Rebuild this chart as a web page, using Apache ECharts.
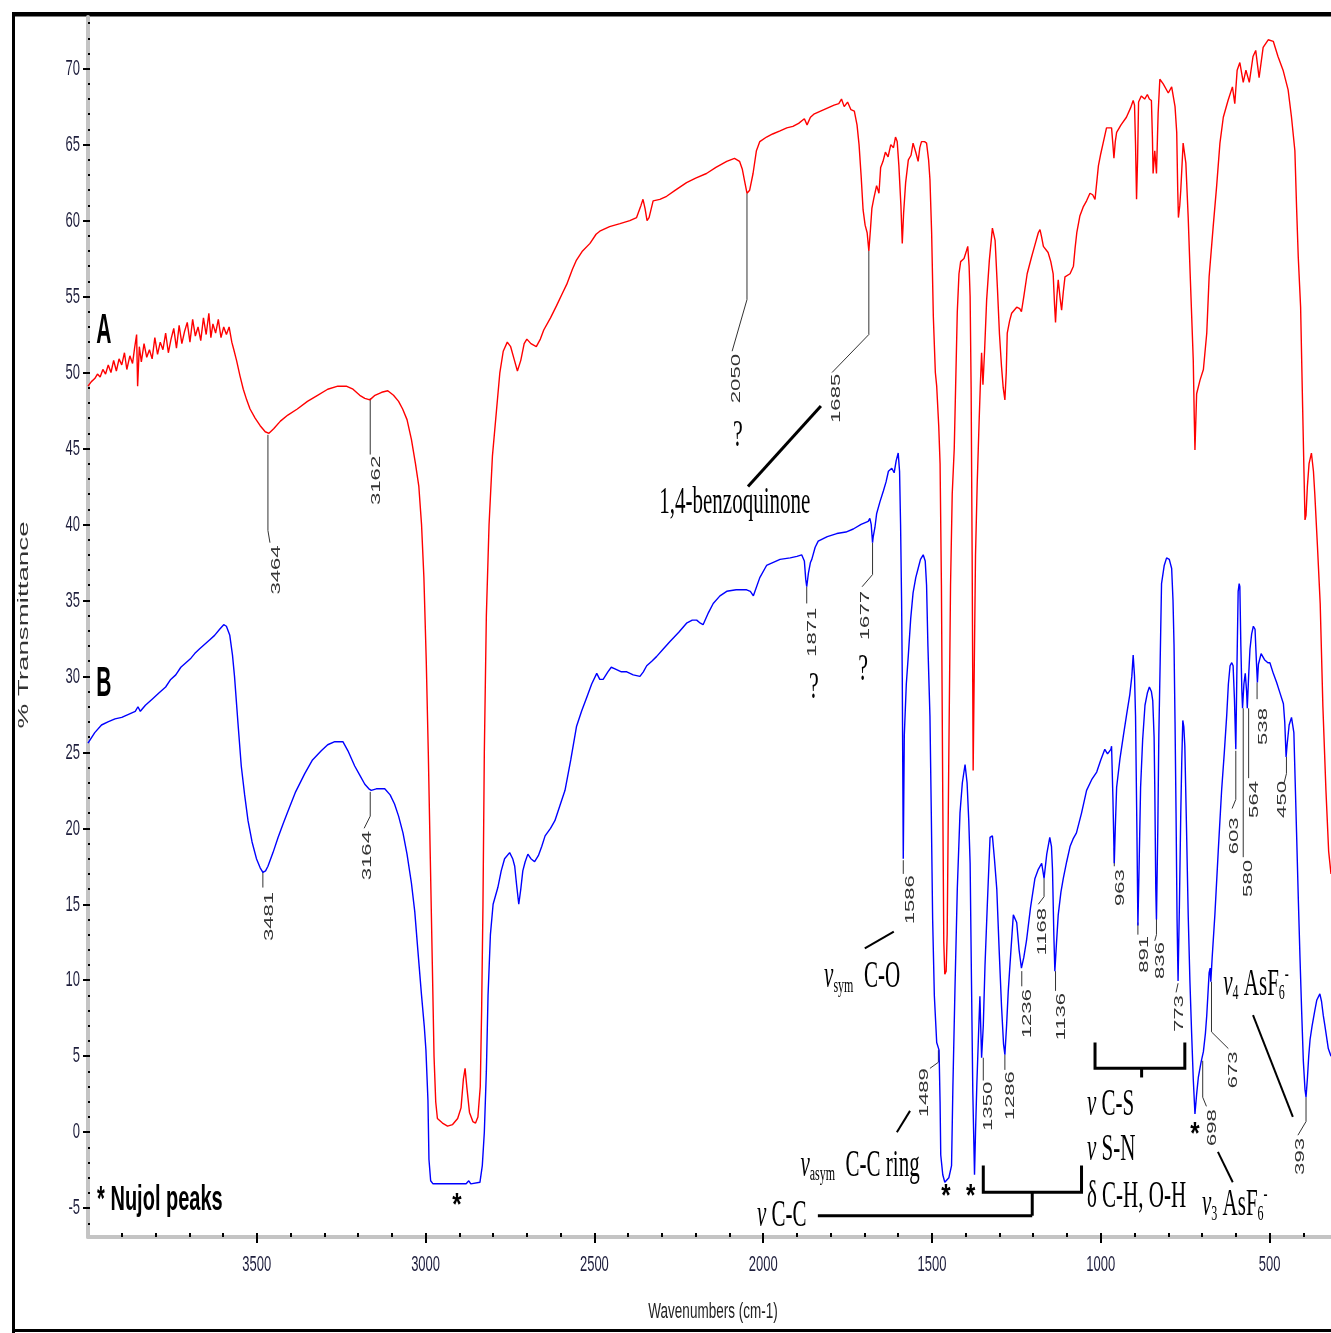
<!DOCTYPE html>
<html>
<head>
<meta charset="UTF-8">
<title>IR spectra A / B</title>
<script src="https://cdn.jsdelivr.net/npm/echarts@6/dist/echarts.min.js"></script>
<style>
  html, body { margin: 0; padding: 0; background: #fff; }
  #main { width: 1331px; height: 1333px; }
</style>
</head>
<body>
<div id="main"></div>
<script>
// spectrum A (red): [wavenumber, %T]
var specA = [
  [4000,49.1],[3990,49.4],[3980,49.6],[3972,49.9],[3964,49.7],[3956,50.2],[3948,49.9],[3940,50.5],[3932,50.0],[3924,50.8],
  [3916,50.1],[3908,50.9],[3900,50.5],[3892,51.3],[3885,50.2],[3876,51.1],[3868,50.6],[3862,51.6],[3856,52.5],[3853,49.1],
  [3848,51.7],[3842,50.7],[3834,51.9],[3826,51.0],[3818,51.5],[3810,50.9],[3802,52.3],[3794,51.2],[3786,52.0],[3778,51.5],
  [3770,52.6],[3762,51.3],[3754,52.2],[3746,52.9],[3738,51.6],[3730,53.1],[3722,51.9],[3714,52.7],[3706,53.3],[3698,52.0],
  [3690,53.5],[3682,52.4],[3674,53.0],[3666,52.1],[3658,53.6],[3650,52.5],[3642,53.9],[3636,52.3],[3630,53.2],[3622,52.6],
  [3614,53.5],[3606,52.3],[3598,53.0],[3590,52.5],[3582,53.0],[3574,52.0],[3568,51.5],[3560,50.8],[3550,49.8],[3540,48.9],
  [3530,48.2],[3520,47.6],[3505,47.0],[3490,46.5],[3475,46.1],[3464,46.0],[3450,46.3],[3430,46.8],[3408,47.2],[3380,47.6],
  [3350,48.1],[3320,48.5],[3290,48.9],[3260,49.1],[3235,49.1],[3215,48.9],[3195,48.5],[3180,48.3],[3165,48.2],[3150,48.5],
  [3130,48.7],[3112,48.8],[3095,48.5],[3080,48.1],[3068,47.6],[3055,46.9],[3042,45.6],[3030,44.0],[3020,42.5],[3012,40.0],
  [3005,36.5],[2998,31.0],[2992,25.0],[2986,18.0],[2980,11.0],[2975,5.0],[2970,2.0],[2965,0.9],[2950,0.6],[2935,0.4],
  [2920,0.5],[2905,0.9],[2895,1.6],[2888,3.5],[2883,4.2],[2878,3.0],[2870,1.3],[2860,0.7],[2852,0.6],[2845,1.0],
  [2838,3.0],[2834,8.0],[2830,15.0],[2826,25.0],[2820,34.0],[2812,40.0],[2802,44.5],[2790,47.5],[2780,50.0],[2770,51.4],
  [2758,52.0],[2748,51.7],[2738,50.9],[2728,50.1],[2718,50.8],[2708,51.9],[2700,52.2],[2688,51.9],[2672,51.7],[2660,52.2],
  [2650,52.8],[2630,53.6],[2612,54.4],[2595,55.2],[2582,55.8],[2565,56.8],[2553,57.4],[2535,58.0],[2513,58.5],[2495,59.1],
  [2484,59.3],[2455,59.6],[2424,59.8],[2395,60.0],[2375,60.2],[2362,61.0],[2356,61.4],[2350,60.8],[2344,60.0],[2338,60.2],
  [2326,61.3],[2306,61.4],[2286,61.6],[2260,62.0],[2227,62.5],[2200,62.8],[2168,63.1],[2140,63.5],[2108,63.9],[2085,64.1],
  [2070,63.9],[2062,63.4],[2055,62.6],[2048,61.8],[2040,62.0],[2030,63.1],[2020,64.6],[2010,65.2],[1990,65.5],[1972,65.7],
  [1950,65.9],[1930,66.1],[1912,66.2],[1895,66.4],[1878,66.7],[1870,66.3],[1860,66.8],[1850,67.0],[1830,67.2],[1810,67.4],
  [1790,67.6],[1776,67.7],[1768,68.0],[1760,67.5],[1750,67.8],[1740,67.3],[1730,67.2],[1722,66.3],[1716,65.0],[1710,63.0],
  [1704,60.7],[1698,59.7],[1692,59.2],[1687,58.0],[1682,59.5],[1678,60.8],[1672,61.5],[1664,62.3],[1657,61.8],[1652,63.5],
  [1645,63.9],[1638,64.5],[1630,64.2],[1622,65.0],[1614,64.8],[1608,65.5],[1603,65.2],[1598,63.6],[1592,61.0],[1588,58.5],
  [1584,60.5],[1578,62.5],[1570,64.0],[1562,64.3],[1556,65.1],[1548,64.5],[1541,63.9],[1536,64.8],[1531,65.2],[1522,65.2],
  [1516,65.1],[1510,64.0],[1506,62.7],[1501,59.2],[1496,53.7],[1490,50.0],[1486,49.1],[1480,46.5],[1476,44.0],[1472,36.0],
  [1468,22.0],[1465,12.5],[1462,10.4],[1458,10.6],[1455,13.0],[1450,25.0],[1445,36.0],[1440,42.0],[1434,45.0],[1430,49.0],
  [1425,54.0],[1420,56.5],[1415,57.3],[1405,57.5],[1398,58.0],[1394,58.3],[1390,57.0],[1387,55.0],[1384,49.0],[1381,38.0],
  [1378,23.8],[1375,30.0],[1371,38.0],[1366,42.7],[1360,47.0],[1357,49.0],[1353,51.3],[1349,49.2],[1344,51.5],[1338,54.8],
  [1330,57.4],[1321,59.5],[1313,58.7],[1306,55.5],[1300,52.5],[1294,50.4],[1289,49.0],[1284,48.2],[1280,50.0],[1277,52.6],
  [1270,53.4],[1264,53.9],[1249,54.3],[1240,54.2],[1235,54.0],[1228,55.0],[1218,56.5],[1205,57.6],[1195,58.4],[1185,59.2],
  [1180,59.4],[1175,58.9],[1170,58.3],[1156,57.9],[1148,57.3],[1141,56.5],[1137,54.5],[1134,53.3],[1130,55.0],[1126,56.1],
  [1121,55.0],[1116,54.1],[1111,55.3],[1106,56.3],[1091,56.5],[1081,57.0],[1076,58.2],[1071,59.2],[1062,60.3],[1052,60.9],
  [1042,61.3],[1032,61.8],[1024,61.7],[1017,61.4],[1012,62.5],[1007,63.6],[1000,64.4],[993,65.1],[983,66.1],[975,66.1],
  [968,66.1],[964,65.0],[961,64.1],[957,65.2],[953,65.8],[940,66.3],[924,66.8],[912,67.4],[904,67.9],[900,67.6],
  [897,65.0],[894,61.4],[891,64.0],[888,67.8],[880,68.2],[870,68.0],[862,68.3],[856,68.0],[850,67.9],[847,65.5],
  [845,63.1],[840,64.6],[835,63.1],[832,65.5],[830,67.1],[825,69.3],[815,69.0],[800,68.4],[790,68.8],[785,68.9],
  [780,67.5],[775,65.8],[772,62.0],[770,60.2],[766,61.0],[763,62.0],[756,65.1],[748,63.8],[741,60.2],[736,57.0],
  [731,53.9],[726,50.8],[723,47.0],[721,44.9],[716,48.6],[706,49.5],[696,50.2],[686,52.6],[679,56.3],[667,59.6],
  [657,62.2],[647,65.1],[637,66.8],[623,67.9],[610,68.8],[603,67.7],[596,69.9],[588,70.4],[578,69.1],[570,69.9],
  [560,69.1],[549,70.8],[541,71.2],[531,69.4],[519,71.4],[504,71.9],[489,71.8],[475,70.8],[460,69.9],[445,68.6],
  [435,66.8],[425,64.6],[420,60.9],[415,57.6],[408,54.3],[402,47.7],[398,43.4],[395,40.3],[392,40.6],[388,42.5],
  [383,44.0],[376,44.7],[370,43.5],[366,42.0],[358,38.5],[350,34.8],[342,28.0],[333,22.5],[325,18.5],[318,17.0]
];

// spectrum B (blue): [wavenumber, %T]
var specB = [
  [4000,25.6],[3980,26.3],[3960,26.8],[3941,27.0],[3920,27.2],[3900,27.3],[3880,27.5],[3860,27.7],[3852,28.0],[3845,27.7],
  [3830,28.1],[3810,28.5],[3790,28.9],[3770,29.3],[3755,29.8],[3740,30.1],[3725,30.6],[3710,30.9],[3695,31.2],[3684,31.5],
  [3670,31.8],[3655,32.1],[3640,32.4],[3625,32.7],[3610,33.1],[3598,33.4],[3590,33.3],[3580,32.7],[3572,31.4],[3566,30.0],
  [3556,27.0],[3546,24.1],[3536,22.2],[3526,20.5],[3514,19.1],[3501,18.0],[3490,17.4],[3482,17.1],[3474,17.2],[3467,17.5],
  [3452,18.4],[3437,19.4],[3422,20.3],[3408,21.1],[3385,22.4],[3358,23.6],[3335,24.5],[3309,25.1],[3290,25.5],[3269,25.7],
  [3245,25.7],[3230,25.1],[3210,24.1],[3195,23.5],[3180,22.9],[3168,22.6],[3161,22.5],[3146,22.6],[3121,22.6],[3105,22.2],
  [3092,21.6],[3080,20.8],[3067,19.7],[3055,18.3],[3042,16.4],[3032,14.5],[3023,12.0],[3012,9.0],[3004,7.0],[2999,5.4],
  [2993,2.1],[2990,-1.8],[2985,-3.2],[2978,-3.4],[2930,-3.4],[2880,-3.4],[2872,-3.2],[2866,-3.4],[2839,-3.3],[2832,-2.2],
  [2826,0.0],[2820,4.0],[2815,9.0],[2808,13.0],[2800,15.0],[2786,16.1],[2776,17.2],[2766,18.0],[2751,18.4],[2742,18.0],
  [2736,17.5],[2730,16.2],[2724,15.0],[2718,16.0],[2712,17.2],[2705,17.8],[2697,18.3],[2688,18.0],[2677,17.8],[2666,18.2],
  [2656,18.8],[2646,19.5],[2630,20.0],[2617,20.5],[2602,21.5],[2587,22.5],[2570,24.5],[2553,26.7],[2538,27.7],[2523,28.6],
  [2508,29.5],[2493,30.2],[2484,29.8],[2474,29.8],[2460,30.3],[2450,30.6],[2439,30.5],[2420,30.3],[2404,30.3],[2385,30.1],
  [2365,30.0],[2355,30.3],[2345,30.7],[2330,31.0],[2316,31.3],[2296,31.8],[2276,32.3],[2250,32.9],[2227,33.5],[2210,33.7],
  [2197,33.7],[2186,33.5],[2178,33.4],[2162,34.2],[2148,34.8],[2128,35.3],[2108,35.6],[2080,35.7],[2049,35.7],[2038,35.6],
  [2029,35.3],[2010,36.5],[1990,37.3],[1970,37.5],[1950,37.7],[1920,37.8],[1900,37.9],[1886,38.0],[1878,37.6],[1874,36.4],
  [1871,35.9],[1866,36.8],[1860,37.5],[1856,37.7],[1846,38.5],[1837,38.9],[1810,39.2],[1782,39.4],[1755,39.5],[1733,39.7],
  [1710,40.0],[1689,40.2],[1684,40.4],[1680,40.0],[1676,38.8],[1674,39.2],[1669,39.8],[1664,40.7],[1654,41.5],[1644,42.2],
  [1636,42.8],[1629,43.5],[1619,43.7],[1612,43.4],[1606,44.2],[1600,44.7],[1596,43.5],[1593,40.0],[1590,35.0],[1588,30.0],
  [1585,18.0],[1582,26.1],[1576,29.5],[1570,31.4],[1563,33.8],[1556,35.5],[1548,36.5],[1541,37.1],[1534,37.7],[1526,38.0],
  [1520,37.6],[1516,36.0],[1512,32.0],[1506,27.4],[1502,21.0],[1498,14.0],[1493,9.0],[1486,5.9],[1479,5.4],[1476,2.0],
  [1474,-1.5],[1468,-2.8],[1462,-3.3],[1457,-3.3],[1450,-3.0],[1442,-2.2],[1438,3.0],[1432,9.3],[1425,16.0],[1417,21.0],
  [1410,23.0],[1402,24.2],[1396,23.0],[1391,20.5],[1387,17.7],[1383,10.0],[1379,2.6],[1374,-2.8],[1371,0.0],[1367,3.2],
  [1362,6.5],[1358,8.95],[1355,6.5],[1353,4.9],[1348,7.0],[1343,10.9],[1336,15.0],[1328,19.4],[1321,19.5],[1315,18.0],
  [1308,16.0],[1301,12.0],[1294,8.3],[1288,5.8],[1284,5.1],[1279,7.0],[1274,9.3],[1266,12.0],[1259,14.3],[1249,13.8],
  [1242,12.0],[1235,10.8],[1228,11.5],[1220,12.6],[1208,14.8],[1195,16.7],[1185,17.3],[1175,17.7],[1168,16.7],[1160,18.3],
  [1151,19.4],[1146,18.8],[1143,17.3],[1139,13.0],[1136,10.6],[1131,12.5],[1126,14.3],[1118,15.8],[1111,16.7],[1101,17.8],
  [1091,18.8],[1082,19.3],[1072,19.7],[1057,21.0],[1042,22.5],[1027,23.2],[1012,23.7],[1000,24.5],[988,25.2],[980,24.9],
  [975,25.0],[970,25.2],[968,25.4],[964,22.0],[960,17.7],[957,20.0],[953,22.7],[943,24.6],[933,26.1],[924,27.4],
  [914,28.8],[908,30.0],[904,31.4],[900,30.0],[897,27.4],[893,20.0],[890,13.6],[886,18.0],[882,22.7],[876,25.8],
  [869,28.1],[862,28.9],[856,29.3],[850,29.0],[846,28.4],[842,26.0],[840,22.7],[837,16.0],[835,14.0],[831,20.0],
  [828,26.1],[824,31.0],[820,36.1],[812,37.3],[805,37.8],[797,37.7],[790,37.1],[786,35.0],[783,32.1],[780,27.0],
  [777,21.0],[774,14.0],[771,9.95],[767,15.0],[763,21.0],[760,24.5],[757,27.1],[754,26.7],[751,25.4],[746,20.0],
  [741,14.3],[736,10.0],[731,6.6],[726,3.5],[721,1.2],[716,2.5],[711,3.6],[703,4.6],[696,5.3],[690,6.5],
  [686,7.7],[679,10.5],[676,10.8],[674,9.9],[670,11.5],[662,14.3],[652,18.5],[642,22.5],[634,25.0],[627,27.4],
  [622,29.5],[617,30.7],[612,30.9],[608,30.7],[604,28.5],[600,25.2],[597,30.0],[593,35.6],[590,36.1],[588,35.9],
  [585,32.0],[582,29.0],[580,27.9],[576,29.5],[572,30.2],[568,29.0],[566,27.9],[562,30.0],[558,31.8],[553,32.8],
  [548,33.3],[543,33.1],[539,31.0],[536,29.6],[533,30.8],[525,31.5],[515,31.1],[505,30.9],[499,30.9],[489,30.2],
  [479,29.6],[469,28.9],[459,28.2],[455,27.0],[451,24.7],[448,25.5],[442,26.8],[435,27.3],[428,26.3],[424,23.0],
  [420,19.7],[415,15.5],[410,11.6],[405,8.0],[400,4.7],[395,2.8],[392,2.3],[388,3.5],[384,5.0],[380,6.1],
  [374,7.0],[366,8.0],[360,8.7],[351,9.1],[346,8.6],[341,7.7],[336,7.0],[326,5.5],[318,5.0]
];

var xTickLabels = [3500, 3000, 2500, 2000, 1500, 1000, 500];
var yTickLabels = [-5, 0, 5, 10, 15, 20, 25, 30, 35, 40, 45, 50, 55, 60, 65, 70];

// peak labels: text, leader line (wavenumber, %T), label centre
var peakNotes = [
  { t: '3464', line: [[3467,45.9],[3467,39.6],[3461,38.8]], at: [3443,37.0] },
  { t: '3162', line: [[3164,48.3],[3164,44.6]], at: [3147,42.9] },
  { t: '3481', line: [[3482,17.2],[3482,16.1]], at: [3464,14.2] },
  { t: '3164', line: [[3164,22.4],[3164,20.8],[3182,20.0]], at: [3171,18.2] },
  { t: '2050', line: [[2048,61.8],[2048,54.8],[2092,51.4]], at: [2078,49.6] },
  { t: '1685', line: [[1687,58.0],[1687,52.5],[1796,50.0]], at: [1784,48.3] },
  { t: '1871', line: [[1871,35.9],[1871,34.8]], at: [1853,32.9] },
  { t: '1677', line: [[1676,38.8],[1676,36.7],[1707,35.9]], at: [1696,34.0] },
  { t: '1586', line: [[1585,17.9],[1585,17.0]], at: [1565,15.3] },
  { t: '1489', line: [[1481,5.4],[1481,4.6],[1506,4.2]], at: [1521,2.6] },
  { t: '1350', line: [[1348,4.9],[1348,3.4]], at: [1334,1.7] },
  { t: '1286', line: [[1284,5.1],[1284,4.1]], at: [1267,2.4] },
  { t: '1236', line: [[1234,10.6],[1234,9.6]], at: [1218,7.8] },
  { t: '1168', line: [[1168,16.7],[1168,15.5],[1185,15.0]], at: [1172,13.2] },
  { t: '1136', line: [[1134,10.6],[1134,9.3]], at: [1118,7.6] },
  { t: '963', line: [[960,18.7],[960,17.5]], at: [943,16.1] },
  { t: '891', line: [[890,13.8],[890,13.0]], at: [872,11.7] },
  { t: '836', line: [[835,16.0],[835,13.0],[840,12.6]], at: [823,11.3] },
  { t: '773', line: [[771,9.8],[777,9.2]], at: [766,7.8] },
  { t: '603', line: [[600,25.1],[600,21.9],[611,21.3]], at: [603,19.5] },
  { t: '580', line: [[578,27.9],[578,18.1]], at: [563,16.7] },
  { t: '564', line: [[562,27.9],[562,23.3]], at: [546,21.9] },
  { t: '538', line: [[537,29.6],[537,28.5]], at: [519,26.7] },
  { t: '450', line: [[450,24.7],[450,23.6],[458,22.9]], at: [463,21.9] },
  { t: '673', line: [[672,9.9],[672,6.6],[622,5.5]], at: [608,4.1] },
  { t: '698', line: [[698,4.7],[698,2.3],[687,1.7]], at: [669,0.3] },
  { t: '393', line: [[392,2.3],[392,0.7],[416,-0.2]], at: [410,-1.6] }
];

var questionMarks = [[2075,45.8],[1850,29.2],[1704,30.4]];
var nujolStars = [[2907,-4.9],[1459,-4.3],[1385,-4.3],[721,-0.2]];

// assignment brackets (thick) and pointer strokes
var brackets = [
  [[1017,5.9],[1017,4.2],[751,4.2],[751,5.9]],
  [[879,4.2],[879,3.6]],
  [[1348,-2.2],[1348,-3.95],[1057,-3.95],[1057,-2.2]],
  [[1203,-3.95],[1203,-5.5]],
  [[1838,-5.5],[1203,-5.5]],
  [[2045,42.5],[1829,47.8]]
];
var pointers = [
  [[1699,12.1],[1613,13.2]],
  [[1604,0.0],[1565,1.4]],
  [[549,7.7],[431,1.0]],
  [[653,-1.3],[609,-3.3]]
];

// serif assignment labels: rich text, anchor, alignment
var assignLabels = [
  { t: '1,4-benzoquinone', at: [2084,41.4], align: 'center' },
  { t: '{v|ν}{s|sym}  C-O', at: [1707,10.2], align: 'center' },
  { t: '{v|ν}{s|asym}  C-C ring', at: [1713,-2.2], align: 'center' },
  { t: '{v|ν} C-C', at: [1945,-5.5], align: 'center' },
  { t: '{v|ν} C-S', at: [1041,1.8], align: 'left' },
  { t: '{v|ν} S-N', at: [1041,-1.2], align: 'left' },
  { t: 'δ C-H, O-H', at: [1041,-4.3], align: 'left' },
  { t: '{v|ν}{s|4} AsF{s|6}{p|-}', at: [540,9.7], align: 'center' },
  { t: '{v|ν}{s|3} AsF{s|6}{p|-}', at: [603,-4.8], align: 'center' }
];

var minorX = [];
for (var w = 400; w <= 3900; w += 100) minorX.push(w);
var minorY = [];
for (var v = -6; v <= 73; v++) minorY.push(v);

var chart = echarts.init(document.getElementById('main'));

var axisBase = { type: 'value', min: 318, max: 4000, inverse: true, splitLine: { show: false }, axisLabel: { show: false } };
var yBase = { type: 'value', min: -6.9, max: 73.4, splitLine: { show: false }, axisLabel: { show: false } };

chart.setOption({
  animation: false,
  backgroundColor: '#fff',
  grid: { left: 88, right: 0, top: 17, bottom: 96 },
  xAxis: [
    Object.assign({}, axisBase, {
      position: 'bottom',
      axisLine: { show: true, onZero: false, lineStyle: { color: '#c4c4c4', width: 4 } },
      axisTick: { show: true, customValues: xTickLabels, length: 6, lineStyle: { color: '#000', width: 2 } }
    }),
    Object.assign({}, axisBase, {
      position: 'bottom',
      axisLine: { show: false, onZero: false },
      axisTick: { show: true, inside: true, customValues: minorX, length: 4, lineStyle: { color: '#000', width: 2 } }
    })
  ],
  yAxis: [
    Object.assign({}, yBase, {
      position: 'left',
      axisLine: { show: true, onZero: false, lineStyle: { color: '#c4c4c4', width: 4 } },
      axisTick: { show: true, customValues: yTickLabels, length: 5, lineStyle: { color: '#000', width: 2 } }
    }),
    Object.assign({}, yBase, {
      position: 'left',
      axisLine: { show: false, onZero: false },
      axisTick: { show: true, inside: true, customValues: minorY, length: 2, lineStyle: { color: '#000', width: 2 } }
    })
  ],
  series: [
    { name: 'A', type: 'line', xAxisIndex: 0, yAxisIndex: 0, data: specA, showSymbol: false, silent: true,
      lineStyle: { color: '#ff0000', width: 1.4 } },
    { name: 'B', type: 'line', xAxisIndex: 0, yAxisIndex: 0, data: specB, showSymbol: false, silent: true,
      lineStyle: { color: '#0000ff', width: 1.4 } }
  ]
});

function toPx(p) { return chart.convertToPixel({ seriesIndex: 0 }, p); }

var g = [];
var sansNum = 'Arial, "Liberation Sans", sans-serif';
var serif = '"Liberation Serif", "Times New Roman", serif';

// frame
g.push({ type: 'rect', shape: { x: 12, y: 12, width: 3, height: 1321 }, style: { fill: '#000' } });
g.push({ type: 'rect', shape: { x: 12, y: 12, width: 1319, height: 4.5 }, style: { fill: '#000' } });
g.push({ type: 'rect', shape: { x: 12, y: 1329, width: 1319, height: 3 }, style: { fill: '#000' } });

// tick labels
yTickLabels.forEach(function (v) {
  var p = toPx([4000, v]);
  g.push({ type: 'text', x: p[0] - 8, y: p[1], scaleY: 1.75,
    style: { text: String(v), fontFamily: sansNum, fontSize: 13, fill: '#1e1e3c', align: 'right', verticalAlign: 'middle' } });
});
xTickLabels.forEach(function (v) {
  var p = toPx([v, -6.9]);
  g.push({ type: 'text', x: p[0], y: p[1] + 28, scaleY: 1.75,
    style: { text: String(v), fontFamily: sansNum, fontSize: 13, fill: '#1e1e3c', align: 'center', verticalAlign: 'middle' } });
});

// axis titles
g.push({ type: 'text', x: 713, y: 1312, scaleY: 1.7,
  style: { text: 'Wavenumbers (cm-1)', fontFamily: sansNum, fontSize: 13.5, fill: '#222', align: 'center', verticalAlign: 'middle' } });
g.push({ type: 'text', x: 24, y: 625, rotation: Math.PI / 2, scaleX: 1.85,
  style: { text: '% Transmittance', fontFamily: sansNum, fontSize: 15, fill: '#333', align: 'center', verticalAlign: 'middle' } });

// peak labels
peakNotes.forEach(function (n) {
  g.push({ type: 'polyline', shape: { points: n.line.map(toPx) }, style: { stroke: '#333', lineWidth: 1, fill: null } });
  var p = toPx(n.at);
  g.push({ type: 'text', x: p[0], y: p[1], rotation: Math.PI / 2, scaleX: 1.7,
    style: { text: n.t, fontFamily: sansNum, fontSize: 13, fill: '#333', align: 'center', verticalAlign: 'middle' } });
});

brackets.forEach(function (b) {
  g.push({ type: 'polyline', shape: { points: b.map(toPx) }, style: { stroke: '#000', lineWidth: 3, fill: null } });
});
pointers.forEach(function (b) {
  g.push({ type: 'polyline', shape: { points: b.map(toPx) }, style: { stroke: '#000', lineWidth: 2, fill: null } });
});

questionMarks.forEach(function (q) {
  var p = toPx(q);
  g.push({ type: 'text', x: p[0], y: p[1], scaleY: 1.7,
    style: { text: '?', fontFamily: serif, fontSize: 22, fill: '#000', align: 'center', verticalAlign: 'middle' } });
});
nujolStars.forEach(function (q) {
  var p = toPx(q);
  g.push({ type: 'text', x: p[0], y: p[1], scaleY: 1.3,
    style: { text: '*', fontFamily: sansNum, fontWeight: 'bold', fontSize: 24, fill: '#000', align: 'center', verticalAlign: 'middle' } });
});

assignLabels.forEach(function (a) {
  var p = toPx(a.at);
  g.push({ type: 'text', x: p[0], y: p[1], scaleY: 1.8,
    style: {
      text: a.t, fontFamily: serif, fontSize: 21, fill: '#000', align: a.align, verticalAlign: 'middle',
      rich: {
        v: { fontFamily: serif, fontSize: 21, fontStyle: 'italic', fill: '#000' },
        s: { fontFamily: serif, fontSize: 12, fill: '#000', padding: [10, 0, 0, 0] },
        p: { fontFamily: serif, fontSize: 12, fill: '#000', padding: [0, 0, 12, 0] }
      }
    } });
});

// sample letters and footnote
var pA = toPx([3953, 52.7]), pB = toPx([3953, 29.5]), pN = toPx([3973, -4.5]);
g.push({ type: 'text', x: pA[0], y: pA[1], scaleY: 2,
  style: { text: 'A', fontFamily: sansNum, fontWeight: 'bold', fontSize: 21, fill: '#000', align: 'center', verticalAlign: 'middle' } });
g.push({ type: 'text', x: pB[0], y: pB[1], scaleY: 2,
  style: { text: 'B', fontFamily: sansNum, fontWeight: 'bold', fontSize: 21, fill: '#000', align: 'center', verticalAlign: 'middle' } });
g.push({ type: 'text', x: pN[0], y: pN[1], scaleY: 1.8,
  style: { text: '* Nujol peaks', fontFamily: sansNum, fontWeight: 'bold', fontSize: 20, fill: '#000', align: 'left', verticalAlign: 'middle' } });

chart.setOption({ graphic: { elements: g } });
</script>
</body>
</html>
